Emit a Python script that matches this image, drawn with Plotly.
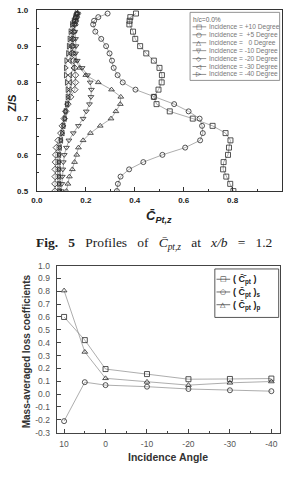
import plotly.graph_objects as go

# ---------------- data: top chart (profiles of C_pt,z at x/b = 1.2) ----------------
Z = [0.50, 0.52, 0.54, 0.56, 0.58, 0.60, 0.62, 0.64, 0.66, 0.68, 0.70, 0.72, 0.74,
     0.76, 0.78, 0.80, 0.82, 0.84, 0.86, 0.88, 0.90, 0.92, 0.94, 0.96, 0.97, 0.98, 0.99]

CPT_P10 = [0.803, 0.790, 0.774, 0.761, 0.763, 0.781, 0.785, 0.791, 0.771, 0.718, 0.637, 0.543, 0.489,
           0.478, 0.497, 0.510, 0.511, 0.501, 0.478, 0.447, 0.422, 0.402, 0.393, 0.378, 0.379, 0.382, 0.405]
CPT_P5 = [0.327, 0.331, 0.342, 0.377, 0.435, 0.513, 0.606, 0.667, 0.678, 0.675, 0.665, 0.620, 0.561,
          0.478, 0.403, 0.351, 0.330, 0.314, 0.307, 0.297, 0.283, 0.263, 0.239, 0.230, 0.234, 0.251, 0.289]
CPT_0 = [0.121, 0.127, 0.133, 0.145, 0.154, 0.163, 0.170, 0.189, 0.219, 0.259, 0.303, 0.323, 0.341,
         0.343, 0.305, 0.251, 0.200, 0.175, 0.160, 0.152, 0.150, 0.150, 0.152, 0.155, 0.158, 0.160, 0.165]
CPT_M10 = [0.100, 0.102, 0.104, 0.106, 0.108, 0.112, 0.121, 0.131, 0.149, 0.170, 0.189, 0.202, 0.215,
           0.221, 0.223, 0.218, 0.207, 0.185, 0.165, 0.158, 0.160, 0.158, 0.155, 0.155, 0.158, 0.162, 0.166]
CPT_M20 = [0.074, 0.074, 0.075, 0.075, 0.076, 0.077, 0.080, 0.087, 0.098, 0.104, 0.112, 0.118, 0.127,
           0.138, 0.155, 0.158, 0.158, 0.154, 0.150, 0.145, 0.145, 0.147, 0.150, 0.155, 0.158, 0.162, 0.166]
CPT_M30 = [0.092, 0.092, 0.092, 0.091, 0.091, 0.092, 0.095, 0.100, 0.106, 0.110, 0.115, 0.118, 0.125,
           0.130, 0.135, 0.137, 0.137, 0.150, 0.135, 0.137, 0.138, 0.140, 0.143, 0.148, 0.153, 0.158, 0.163]
CPT_M40 = [0.090, 0.090, 0.089, 0.089, 0.089, 0.090, 0.092, 0.097, 0.103, 0.108, 0.113, 0.117, 0.122,
           0.125, 0.125, 0.122, 0.118, 0.118, 0.120, 0.127, 0.130, 0.133, 0.137, 0.143, 0.150, 0.156, 0.162]

TOP_SERIES = [CPT_P10, CPT_P5, CPT_0, CPT_M10, CPT_M20, CPT_M30, CPT_M40]
TOP_LABELS = ["Incidence = +10 Degree", "Incidence =  +5 Degree", "Incidence =   0 Degree",
              "Incidence = -10 Degree", "Incidence = -20 Degree", "Incidence = -30 Degree",
              "Incidence = -40 Degree"]
TOP_LEGEND_TITLE = "h/c=0.0%"

# ---------------- data: bottom chart (mass-averaged loss coefficients) ----------------
ANGLES = [10, 5, 0, -10, -20, -30, -40]
CPT_TOTAL = [0.60, 0.42, 0.195, 0.156, 0.116, 0.118, 0.121]
CPT_S = [-0.21, 0.093, 0.070, 0.058, 0.040, 0.030, 0.023]
CPT_P = [0.805, 0.328, 0.123, 0.095, 0.070, 0.088, 0.098]
BOTTOM_SERIES = [CPT_TOTAL, CPT_S, CPT_P]
BOTTOM_LABELS = ["( C\u0304\u0304<sub>pt</sub> )", "( C\u0304<sub>pt</sub> )<sub>s</sub>",
                 "( C\u0304<sub>pt</sub> )<sub>p</sub>"]

ANGLE_TICKS = [10, 0, -10, -20, -30, -40]
ANGLE_TICKTEXT = ["10", "0", "-10", "-20", "-30", "-40"]
LOSS_TICKS = [1.0, 0.9, 0.8, 0.7, 0.6, 0.5, 0.4, 0.3, 0.2, 0.1, 0.0, -0.1, -0.2, -0.3]
LOSS_TICKTEXT = ["1.0", "0.9", "0.8", "0.7", "0.6", "0.5", "0.4", "0.3", "0.2", "0.1",
                 "0.0", "-0.1", "-0.2", "-0.3"]

# ---------------- styling ----------------
W, H = 287, 486
def fx(p):  # pixel x -> paper
    return p / W
def fy(p):  # pixel y (from top) -> paper
    return 1 - p / H

TOP_SYMBOLS = ["square-open", "circle-open", "triangle-up-open", "triangle-down-open",
               "diamond-open", "triangle-left-open", "triangle-right-open"]
TOP_GLYPHS = ["\u25a1", "\u25cb", "\u25b3", "\u25bd", "\u25c7", "\u25c1", "\u25b7"]
BOT_SYMBOLS = ["square-open", "circle-open", "triangle-up-open"]
BOT_GLYPHS = ["\u25a1", "\u25cb", "\u25b3"]

MARK = "#2a2a2a"
LINE = "#8a8a8a"
SANS = "Liberation Sans, Arial, sans-serif"
SERIF = "Liberation Serif, Times New Roman, serif"

fig = go.Figure()

for vals, sym, lab in zip(TOP_SERIES, TOP_SYMBOLS, TOP_LABELS):
    fig.add_trace(go.Scatter(
        x=vals, y=Z, mode="lines+markers", name=lab, showlegend=False,
        line=dict(color=LINE, width=0.7),
        marker=dict(symbol=sym, size=5, color=MARK, line=dict(color=MARK, width=0.8)),
        xaxis="x", yaxis="y"))

for vals, sym in zip(BOTTOM_SERIES, BOT_SYMBOLS):
    fig.add_trace(go.Scatter(
        x=ANGLES, y=vals, mode="lines+markers", showlegend=False,
        line=dict(color=LINE, width=0.7),
        marker=dict(symbol=sym, size=5, color=MARK, line=dict(color=MARK, width=0.8)),
        xaxis="x2", yaxis="y2"))

axis_common = dict(showline=True, mirror=True, showgrid=False, zeroline=False,
                   ticks="inside", ticklen=4, tickwidth=1)

fig.update_layout(
    width=W, height=H, autosize=False,
    margin=dict(l=0, r=0, t=0, b=0, pad=0),
    paper_bgcolor="white", plot_bgcolor="white",
    showlegend=False,
    xaxis=dict(domain=[fx(31.5), fx(281.5)], range=[0, 1], anchor="y",
               dtick=0.2, tick0=0, tickformat=".1f",
               linecolor="#333", linewidth=1, tickcolor="#333",
               tickfont=dict(family=SANS, size=8, color="#222", weight="bold"),
               minor=dict(dtick=0.1, ticks="inside", ticklen=2, tickcolor="#333"),
               ticklabelstandoff=1, **axis_common),
    yaxis=dict(domain=[fy(190), fy(5)], range=[0.5, 1.0], anchor="x",
               dtick=0.1, tick0=0.5, tickformat=".1f",
               linecolor="#333", linewidth=1, tickcolor="#333",
               tickfont=dict(family=SANS, size=8, color="#222", weight="bold"),
               minor=dict(dtick=0.05, ticks="inside", ticklen=2, tickcolor="#333"),
               ticklabelstandoff=6, **axis_common),
    xaxis2=dict(domain=[fx(51.7), fx(279.5)], range=[11.8, -42], anchor="y2",
                tickvals=ANGLE_TICKS, ticktext=ANGLE_TICKTEXT,
                linecolor="#444", linewidth=1, tickcolor="#444",
                tickfont=dict(family=SANS, size=8.5, color="#555"),
                minor=dict(dtick=5, tick0=0, ticks="inside", ticklen=2, tickcolor="#444"),
                ticklabelstandoff=3, **axis_common),
    yaxis2=dict(domain=[fy(436.7), fy(266)], range=[-0.3, 1.0], anchor="x2",
                tickvals=LOSS_TICKS, ticktext=LOSS_TICKTEXT,
                linecolor="#444", linewidth=1, tickcolor="#444",
                tickfont=dict(family=SANS, size=8.5, color="#555"),
                ticklabelstandoff=4, **axis_common),
)

ann = []
shapes = []

def add_text(text, x, y, size, color, family=SANS, xanchor="center", angle=0):
    ann.append(dict(text=text, x=fx(x), y=fy(y), xref="paper", yref="paper",
                    xanchor=xanchor, yanchor="middle", textangle=angle, showarrow=False,
                    borderpad=0, font=dict(family=family, size=size, color=color)))

NB = "\u00a0"
# axis titles (top)
add_text("<b>Z/S</b>", 6, 100, 11, "#222", angle=-90)
add_text("<b><i>C\u0304<sub>Pt,z</sub></i></b>", 156, 216, 13, "#222")
# caption
gap = NB * 3
add_text("<b>Fig." + gap + "5</b>" + gap + "Profiles" + gap + "of" + gap + "<i>C\u0304<sub>pt,z</sub></i>"
         + gap + "at" + gap + "<i>x/b</i>" + gap + "=" + gap + "1.2", 151, 243, 13.5, "#222", family=SERIF)
# axis titles (bottom)
add_text("<b>Mass-averaged loss coefficients</b>", 21, 354, 10, "#333", angle=-90)
add_text("<b>Incidence Angle</b>", 165, 461.5, 10.5, "#333")

# ---- top legend (drawn manually for compact spacing) ----
shapes.append(dict(type="rect", xref="paper", yref="paper", x0=fx(188), x1=fx(279.5), y0=fy(77), y1=fy(7.5),
                   line=dict(color="#777", width=0.8), fillcolor="white", layer="above"))
add_text(TOP_LEGEND_TITLE, 190, 14.5, 6.6, "#666", xanchor="left")
row0, step = 22.3, 8.1
for i, (lab, g) in enumerate(zip(TOP_LABELS, TOP_GLYPHS)):
    yy = row0 + i * step
    shapes.append(dict(type="line", xref="paper", yref="paper", x0=fx(190.5), x1=fx(204.5), y0=fy(yy), y1=fy(yy),
                       line=dict(color="#666", width=0.7), layer="above"))
    add_text(g, 197.5, yy, 6.6, "#333", family="DejaVu Sans")
    add_text(lab.replace("  ", NB + NB), 206.5, yy, 6.6, "#777", xanchor="left")

# ---- bottom legend ----
shapes.append(dict(type="rect", xref="paper", yref="paper", x0=fx(213.3), x1=fx(278.5), y0=fy(319), y1=fy(269.5),
                   line=dict(color="#444", width=0.9), fillcolor="white", layer="above"))
for i, (lab, g) in enumerate(zip(BOTTOM_LABELS, BOT_GLYPHS)):
    yy = 280 + i * 13
    shapes.append(dict(type="line", xref="paper", yref="paper", x0=fx(215), x1=fx(229), y0=fy(yy), y1=fy(yy),
                       line=dict(color="#444", width=0.8), layer="above"))
    add_text("<b>" + g + "</b>", 222, yy, 7, "#222", family="DejaVu Sans")
    add_text("<b>" + lab + "</b>", 231, yy + 1, 9, "#222", xanchor="left")

fig.update_layout(annotations=ann, shapes=shapes)
fig.write_html("out.html")
